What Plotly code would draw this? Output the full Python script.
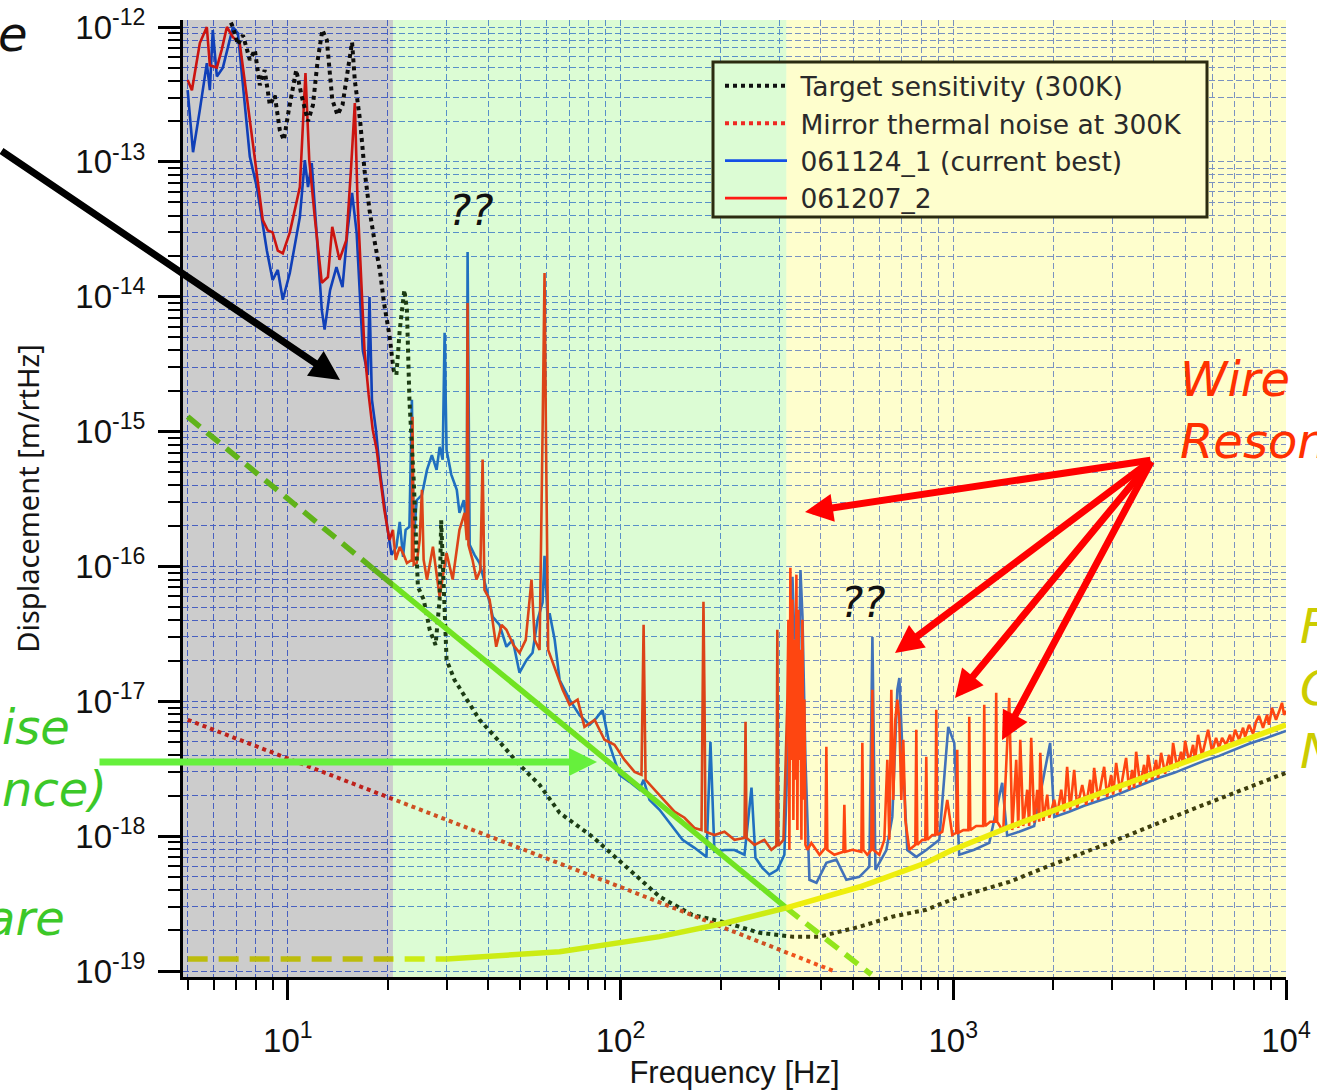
import math
import plotly.graph_objects as go

# ------------------------------------------------------------------ data
TARGET_F = [6.0, 6.84, 7.08, 7.33, 7.69, 7.96, 8.24, 8.52, 8.83, 9.14, 9.46, 9.73, 10.07, 10.35,
            10.6, 11.0, 11.5, 11.9, 12.3, 12.7, 13.1, 13.6, 14.1, 14.6, 15.1, 15.6, 15.9, 16.5,
            17.0, 17.6, 18.2, 18.9, 19.5, 20.2, 20.8, 21.2, 21.7, 22.2, 22.4, 22.8, 23.2, 23.9,
            24.6, 25.6, 26.7, 27.8, 28.6, 28.9, 29.4, 30.0, 31.7, 34.5, 37.7, 43.3, 49.7, 57.1,
            65.6, 82.4, 104.2, 131, 164.5, 208, 262, 328.6, 396, 522, 655.8, 829.6, 1042, 1474,
            1943, 3109, 5456, 10000]
TARGET_D = [2.0e-12, 1.0e-12, 7.4e-13, 8.7e-13, 5.7e-13, 6.75e-13, 3.7e-13, 4.8e-13, 2.64e-13,
            3.1e-13, 1.72e-13, 1.45e-13, 2.43e-13, 3.4e-13, 4.8e-13, 3.1e-13, 2.0e-13, 2.64e-13,
            5.7e-13, 9.5e-13, 8.0e-13, 2.9e-13, 2.23e-13, 2.64e-13, 4.8e-13, 7.7e-13, 4.0e-13,
            2.0e-13, 8.7e-14, 4.4e-14, 2.64e-14, 1.58e-14, 8.7e-15, 5.2e-15, 2.86e-15, 2.63e-15,
            5.7e-15, 1.03e-14, 1.12e-14, 8.0e-15, 1.72e-15, 4.4e-16, 7.06e-17, 5.7e-17, 3.39e-17,
            2.62e-17, 5.7e-17, 2.2e-16, 6.7e-17, 2.03e-17, 1.44e-17, 1.03e-17, 7.3e-18, 5.0e-18,
            3.38e-18, 2.40e-18, 1.49e-18, 9.9e-19, 5.93e-19, 3.56e-19, 2.61e-19, 2.28e-19,
            1.92e-19, 1.80e-19, 1.80e-19, 2.13e-19, 2.53e-19, 2.85e-19, 3.56e-19, 4.59e-19,
            6.03e-19, 9.4e-19, 1.65e-18, 2.95e-18]

MIRROR_F = [5, 100, 437]
MIRROR_D = [7.3e-18, 4.2e-19, 1.0e-19]

# green model line: dashed / solid / dashed pieces
SEIS_F = [5, 18, 315, 567]
SEIS_D = [1.29e-15, 9.7e-17, 2.94e-19, 9.4e-20]

# yellow model line: dashed low-frequency piece then solid
SHOT_F = [5, 30, 65.6, 131, 208, 315, 522, 830, 981, 1474, 3867, 10000]
SHOT_D = [1.23e-19, 1.23e-19, 1.39e-19, 1.8e-19, 2.28e-19, 2.94e-19, 4.2e-19, 6.35e-19,
          7.8e-19, 1.17e-18, 2.8e-18, 6.7e-18]

BLUE_F = [5.0, 5.19, 5.44, 5.71, 5.83, 5.95, 6.12, 6.38, 6.69, 6.84, 7.08, 7.33, 7.69, 8.07,
          8.65, 9.0, 9.33, 9.66, 10.14, 10.87, 11.25, 11.5, 11.8, 12.2, 12.65, 12.9, 13.4, 14.0,
          14.6, 15.1, 15.6, 16.1, 16.5, 16.8, 17.4, 17.6, 17.9, 18.4, 18.9, 19.4, 19.96, 20.5,
          21.2, 21.7, 22.2, 22.6, 23.2, 23.6, 23.9, 24.4, 25.3, 26.2, 27.1, 28.0, 28.6, 29.2,
          29.6, 30.0, 31.0, 32.2, 32.8, 33.8, 34.5, 34.7, 35.2, 36.4, 37.7, 39.6, 41.3, 43.3,
          45.4, 47.4, 49.7, 52.2, 54.4, 56.3, 58.3, 59.1, 60.4, 61.2, 63.4, 65.6, 70.3, 75.3,
          80.8, 84.7, 88.3, 92.7, 99.3, 106.4, 114.0, 117.3, 122.2, 131.0, 140.4, 153.6, 166.8,
          181.2, 186.3, 191.5, 205.3, 220.0, 235.8, 247.5, 254.4, 266.8, 280.0, 296.0, 310.7,
          322.0, 328.6, 333.2, 338.0, 342.6, 347.3, 352.2, 359.5, 369.6, 388.0, 415.5, 445.3,
          477.2, 522.0, 559.5, 571.4, 583.6, 629.4, 655.8, 679.2, 688.6, 703.0, 727.5, 774.3,
          829.6, 907.8, 965.9, 1007, 1042, 1156, 1283, 1403, 1452, 1578, 1750, 1955, 2011, 2230,
          2473, 2743, 3043, 3378, 3748, 4157, 4612, 5117, 5675, 6295, 6982, 7745, 8592, 10000]
BLUE_D = [3.4e-13, 1.18e-13, 2.43e-13, 5.4e-13, 3.4e-13, 9.5e-13, 4.3e-13, 5.0e-13, 8.0e-13,
          1.0e-12, 9.0e-13, 3.85e-13, 1.09e-13, 6.5e-14, 2.2e-14, 1.33e-14, 1.58e-14, 9.5e-15,
          1.5e-14, 3.9e-14, 1.03e-13, 6.5e-14, 9.8e-14, 3.0e-14, 8.0e-15, 5.7e-15, 1.12e-14,
          1.66e-14, 1.18e-14, 3.0e-14, 5.9e-14, 3.0e-14, 9.5e-15, 4.0e-15, 2.63e-15, 9.97e-15,
          1.72e-15, 1.03e-15, 5.2e-16, 3.1e-16, 1.87e-16, 1.22e-16, 1.40e-16, 2.14e-16, 1.18e-16,
          1.87e-16, 1.97e-16, 1.72e-15, 1.57e-16, 3.1e-16, 3.4e-16, 5.2e-16, 6.7e-16, 5.2e-16,
          7.7e-16, 6.2e-16, 5.4e-15, 7.3e-16, 4.8e-16, 3.7e-16, 2.5e-16, 3.1e-16, 1.87e-16,
          2.15e-14, 1.45e-16, 1.22e-16, 1.06e-16, 6.7e-17, 4.23e-17, 3.69e-17, 2.54e-17, 2.86e-17,
          1.63e-17, 2.03e-17, 2.29e-17, 4.0e-17, 5.4e-17, 1.2e-16, 4.0e-17, 4.5e-17, 2.86e-17,
          1.44e-17, 1.03e-17, 7.9e-18, 6.7e-18, 7.55e-18, 8.6e-18, 4.76e-18, 2.85e-18, 2.53e-18,
          2.21e-18, 2.62e-18, 1.86e-18, 1.57e-18, 1.26e-18, 9.4e-19, 8.2e-19, 7.03e-19, 5.0e-18,
          7.66e-19, 7.9e-19, 7.9e-19, 7.28e-19, 2.29e-18, 6.92e-19, 5.83e-19, 5.18e-19, 5.63e-19,
          7.28e-19, 1.03e-17, 8.4e-17, 2.86e-17, 4.23e-17, 1.03e-17, 9.4e-17, 4.23e-17, 3.7e-18,
          4.75e-19, 4.52e-19, 6.35e-19, 6.7e-19, 4.75e-19, 5.0e-19, 5.93e-19, 3.0e-17, 5.63e-19,
          7.9e-19, 1.39e-18, 1.22e-17, 1.49e-17, 4.37e-18, 7.9e-19, 7.03e-19, 7.9e-19, 9.4e-19,
          6.47e-18, 4.9e-18, 7.28e-19, 7.93e-19, 8.93e-19, 2.49e-18, 1.01e-18, 1.08e-18,
          1.19e-18, 4.92e-18, 1.39e-18, 1.52e-18, 1.68e-18, 1.83e-18, 1.99e-18, 2.21e-18,
          2.45e-18, 2.71e-18, 2.95e-18, 3.27e-18, 3.62e-18, 3.94e-18, 4.37e-18, 4.84e-18,
          5.27e-18, 6.04e-18]

RED_F = [5.0, 5.15, 5.44, 5.71, 5.83, 6.12, 6.33, 6.56, 6.84, 7.17, 7.53, 8.07, 8.41, 8.71, 9.0,
         9.33, 9.66, 10.14, 10.87, 11.3, 11.6, 12.05, 12.65, 13.2, 13.6, 14.3, 15.0, 15.5, 15.9,
         16.2, 16.7, 17.0, 17.5, 18.0, 18.5, 19.0, 19.5, 20.2, 20.7, 21.1, 21.7, 22.3, 22.8,
         23.6, 23.7, 23.9, 24.4, 24.9, 25.3, 25.6, 26.2, 27.3, 28.0, 28.6, 30.0, 31.3, 32.8,
         34.0, 34.5, 34.7, 34.9, 35.9, 36.9, 37.9, 38.5, 39.0, 40.4, 42.3, 43.9, 45.4, 47.7,
         49.7, 51.9, 54.0, 55.2, 57.1, 58.3, 59.1, 59.7, 60.6, 64.2, 67.0, 70.3, 74.3, 77.9,
         83.6, 89.5, 95.9, 102.8, 110.2, 115.6, 117.3, 118.9, 126.5, 135.6, 145.3, 155.7, 166.8,
         175.1, 176.3, 177.5, 178.8, 180.0, 191.5, 205.3, 220.0, 235.8, 237.5, 239.2, 252.7,
         270.6, 284.0, 294.0, 296.0, 298.0, 308.8, 317.3, 319.5, 321.7, 323.9, 326.2, 328.5,
         330.7, 333.0, 335.4, 337.7, 340.0, 342.4, 344.8, 347.1, 349.6, 352.0, 354.4, 356.9,
         359.4, 364.4, 374.6, 396.3, 412.7, 415.5, 418.3, 439.2, 467.4, 470.6, 473.9, 497.6,
         529.3, 533.0, 536.7, 551.7, 567.3, 571.2, 575.2, 599.6, 620.6, 633.6, 642.4, 651.3,
         660.4, 669.6, 678.9, 688.4, 698.0, 707.7, 717.7, 737.8, 769.0, 774.3, 779.7, 807.1,
         824.0, 829.6, 835.5, 864.9, 883.0, 889.1, 895.3, 926.8, 959.4, 993.1, 1021, 1028,
         1035, 1072, 1110, 1117, 1125, 1172, 1230, 1239, 1247, 1291, 1337, 1346, 1355,
         1413, 1473, 1504, 1546, 1568, 1590, 1623, 1668, 1691, 1715, 1751, 1788, 1813, 1826,
         1864, 1916, 1943, 2011, 2053, 2111, 2154, 2199, 2246, 2309, 2357, 2441, 2509, 2579,
         2615, 2651, 2725, 2841, 2901, 2982, 3024, 3087, 3173, 3307, 3377, 3448, 3496, 3545,
         3644, 3746, 3798, 3851, 3959, 4069, 4126, 4213, 4331, 4452, 4515, 4578, 4706, 4838,
         4905, 4974, 5113, 5256, 5330, 5441, 5594, 5713, 5832, 5996, 6164, 6293, 6425, 6605,
         6790, 6884, 7029, 7226, 7429, 7533, 7744, 7961, 8128, 8298, 8531, 8770, 8889, 9078,
         9332, 9528, 9727, 9862, 10000]
RED_D = [4.05e-13, 3.4e-13, 7.6e-13, 1.0e-12, 5.2e-13, 5.0e-13, 6.8e-13, 1.0e-12, 8.4e-13,
         7.6e-13, 3.03e-13, 8.3e-14, 3.7e-14, 3.1e-14, 3.0e-14, 2.2e-14, 2.1e-14, 3.0e-14,
         6.5e-14, 4.56e-13, 1.03e-13, 3.9e-14, 1.27e-14, 1.40e-14, 3.3e-14, 1.88e-14, 2.64e-14,
         9.2e-14, 2.73e-13, 5.2e-14, 1.07e-14, 4.0e-15, 1.87e-15, 1.03e-15, 7.3e-16, 4.4e-16,
         2.63e-16, 1.57e-16, 1.87e-16, 1.12e-16, 1.40e-16, 1.22e-16, 1.06e-16, 1.12e-16,
         1.29e-15, 1.03e-16, 1.06e-16, 1.57e-16, 3.7e-16, 1.12e-16, 7.96e-17, 1.40e-16, 8.7e-17,
         5.95e-17, 1.26e-16, 8.0e-17, 1.87e-16, 2.5e-16, 1.57e-16, 9.0e-15, 1.45e-16, 1.12e-16,
         8.0e-17, 9.4e-17, 6.2e-16, 6.7e-17, 5.7e-17, 2.54e-17, 3.69e-17, 3.39e-17, 2.6e-17,
         2.29e-17, 2.86e-17, 8.0e-17, 2.86e-17, 2.4e-17, 9.8e-16, 1.5e-14, 8.7e-16, 2.41e-17,
         1.63e-17, 1.22e-17, 9.42e-18, 1.03e-17, 6.47e-18, 7.29e-18, 5.19e-18, 4.76e-18,
         3.68e-18, 3.0e-18, 2.85e-18, 3.69e-17, 2.62e-18, 2.21e-18, 1.86e-18, 1.52e-18,
         1.37e-18, 1.15e-18, 1.11e-18, 1.16e-17, 5.47e-17, 1.03e-17, 1.08e-18, 1.02e-18,
         1.08e-18, 9.4e-19, 9.7e-19, 7.05e-18, 9.7e-19, 8.63e-19, 9.4e-19, 7.93e-19, 8.49e-19,
         3.39e-17, 8.49e-19, 9.4e-19, 1.03e-17, 4.02e-17, 7.93e-19, 9.8e-17, 3.68e-18, 5.7e-17,
         1.32e-18, 2.86e-17, 2.62e-18, 8.7e-17, 1.11e-18, 4.77e-17, 3.68e-18, 2.41e-17, 9.4e-19,
         4.02e-17, 1.86e-18, 1.03e-17, 8.63e-19, 7.93e-19, 8.9e-19, 7.28e-19, 8.2e-19, 4.6e-18,
         7.93e-19, 7.28e-19, 7.66e-19, 1.71e-18, 7.66e-19, 7.93e-19, 7.66e-19, 4.92e-18,
         7.93e-19, 7.28e-19, 7.93e-19, 1.22e-17, 7.93e-19, 7.28e-19, 9.4e-19, 3.68e-18, 9.4e-19,
         1.22e-17, 1.86e-18, 7.29e-18, 1.03e-17, 7.29e-18, 1.86e-18, 5.19e-18, 1.32e-18,
         7.93e-19, 8.63e-19, 6.15e-18, 8.63e-19, 9.4e-19, 9.4e-19, 3.88e-18, 9.4e-19, 1.02e-18,
         1.02e-18, 8.65e-18, 1.02e-18, 1.08e-18, 1.86e-18, 1.02e-18, 1.06e-18, 4.37e-18,
         1.06e-18, 1.11e-18, 1.11e-18, 7.67e-18, 1.11e-18, 1.19e-18, 1.19e-18, 9.42e-18,
         1.19e-18, 1.28e-18, 1.28e-18, 1.16e-17, 1.28e-18,
         1.08e-18, 1.06e-17, 1.11e-18, 3.68e-18, 1.15e-18, 5.19e-18, 1.19e-18, 2.21e-18,
         1.19e-18, 5.36e-18, 1.26e-18, 2.21e-18, 1.28e-18, 4.15e-18, 1.30e-18, 2.03e-18,
         1.37e-18, 1.86e-18, 1.44e-18, 2.21e-18, 1.52e-18, 3.27e-18, 1.57e-18, 3.10e-18,
         1.63e-18, 2.40e-18, 1.71e-18, 2.62e-18, 1.80e-18, 3.21e-18, 1.86e-18, 3.27e-18,
         1.96e-18, 2.85e-18, 2.03e-18, 3.50e-18, 2.13e-18, 3.81e-18, 2.21e-18, 3.10e-18,
         2.28e-18, 4.23e-18, 2.40e-18, 3.38e-18, 2.53e-18, 4.01e-18, 2.62e-18, 3.68e-18,
         2.71e-18, 4.15e-18, 2.90e-18, 4.01e-18, 3.10e-18, 4.92e-18, 3.21e-18, 4.23e-18,
         3.38e-18, 5.10e-18, 3.56e-18, 4.76e-18, 3.68e-18, 5.65e-18, 3.94e-18, 5.01e-18,
         6.15e-18, 4.23e-18, 5.36e-18, 4.52e-18, 5.36e-18, 4.76e-18, 5.65e-18, 4.84e-18,
         6.15e-18, 5.19e-18, 6.37e-18, 5.46e-18, 6.70e-18, 5.74e-18, 7.05e-18, 7.80e-18,
         6.37e-18, 7.94e-18, 6.70e-18, 8.95e-18, 7.29e-18, 8.36e-18, 9.75e-18, 7.94e-18, 8.5e-18]

X_TICKS = [10, 100, 1000, 10000]
X_TICKTEXT = ["10<sup>1</sup>", "10<sup>2</sup>", "10<sup>3</sup>", "10<sup>4</sup>"]
Y_EXPONENTS = [-19, -18, -17, -16, -15, -14, -13, -12]
MANTISSAS = [2, 3, 4, 5, 6, 7, 8, 9]
REGION_EDGES = [20.7, 315]   # Hz: grey | green | yellow shading

# ------------------------------------------------------------------ layout constants
W, H = 1317, 1090
PL, PR, PT, PB = 183, 1286, 20, 977
X_RANGE = [0.685, 4.0]
Y_RANGE = [-19.044, -11.948]

def px(x):
    return (x - PL) / (PR - PL)

def py(y):
    return (PB - y) / (PB - PT)

def fx(f):
    return (math.log10(f) - X_RANGE[0]) / (X_RANGE[1] - X_RANGE[0])

GRID = "#5a78f0"
TICKFONT = dict(family="Liberation Sans, Arial, sans-serif", size=33, color="#111111")
SLIDE = "DejaVu Sans, Open Sans, sans-serif"
NB = "\u00a0"

fig = go.Figure()

fig.add_trace(go.Scatter(x=BLUE_F, y=BLUE_D, mode="lines", name=NB + "061124_1 (current best)",
                         line=dict(color="#1450e6", width=2.6), legendrank=3))
fig.add_trace(go.Scatter(x=RED_F, y=RED_D, mode="lines", name=NB + "061207_2",
                         line=dict(color="#ff1a14", width=2.6), legendrank=4))
fig.add_trace(go.Scatter(x=TARGET_F, y=TARGET_D, mode="lines",
                         name=NB + "Target sensitivity (300K)",
                         line=dict(color="#101010", width=4, dash="dot"), legendrank=1))
fig.add_trace(go.Scatter(x=MIRROR_F, y=MIRROR_D, mode="lines",
                         name=NB + "Mirror thermal noise at 300K",
                         line=dict(color="#ee2a22", width=4, dash="dot"), legendrank=2))
# green model line (dashed outside 18-315 Hz)
fig.add_trace(go.Scatter(x=SEIS_F[0:2], y=SEIS_D[0:2], mode="lines", showlegend=False,
                         line=dict(color="#78e020", width=5.5, dash="16px,9px")))
fig.add_trace(go.Scatter(x=SEIS_F[1:3], y=SEIS_D[1:3], mode="lines", showlegend=False,
                         line=dict(color="#78e020", width=5.5)))
fig.add_trace(go.Scatter(x=SEIS_F[2:4], y=SEIS_D[2:4], mode="lines", showlegend=False,
                         line=dict(color="#78e020", width=5.5, dash="16px,9px")))
# yellow model line
fig.add_trace(go.Scatter(x=SHOT_F[0:2], y=SHOT_D[0:2], mode="lines", showlegend=False,
                         line=dict(color="#ecec10", width=5.5, dash="20px,11px")))
fig.add_trace(go.Scatter(x=SHOT_F[1:], y=SHOT_D[1:], mode="lines", showlegend=False,
                         line=dict(color="#ecec10", width=5.5)))

x_minor = [m * 10 ** k for k in range(0, 4) for m in MANTISSAS if m * 10 ** k >= 5]
y_minor = [m * 10.0 ** e for e in range(-20, -12) for m in MANTISSAS]

axis_common = dict(type="log", showline=True, linecolor="black", linewidth=3, mirror=False,
                   ticks="outside", tickwidth=2.5, tickcolor="black", tickfont=TICKFONT,
                   showgrid=True, gridcolor=GRID, gridwidth=1, griddash="6px,3px",
                   zeroline=False, automargin=False)

fig.update_xaxes(range=X_RANGE, tickmode="array", tickvals=X_TICKS, ticktext=X_TICKTEXT,
                 ticklen=20, ticklabelstandoff=12,
                 minor=dict(tickmode="array", tickvals=x_minor, ticks="outside", ticklen=10,
                            tickwidth=2, tickcolor="black", showgrid=True, gridcolor=GRID,
                            gridwidth=1, griddash="6px,3px"),
                 title=dict(text="Frequency [Hz]", standoff=4,
                            font=dict(family="Liberation Sans, Arial, sans-serif", size=31,
                                      color="#151515")),
                 **axis_common)
fig.update_yaxes(range=Y_RANGE, tickmode="array",
                 tickvals=[10.0 ** e for e in Y_EXPONENTS],
                 ticktext=["10<sup>%d</sup>" % e for e in Y_EXPONENTS],
                 ticklen=22, ticklabelstandoff=6,
                 minor=dict(tickmode="array", tickvals=y_minor, ticks="outside", ticklen=12,
                            tickwidth=2, tickcolor="black", showgrid=True, gridcolor=GRID,
                            gridwidth=1, griddash="6px,3px"),
                 title=dict(text="Displacement [m/rtHz]", standoff=28,
                            font=dict(family="Noto Sans, Open Sans, sans-serif", size=29,
                                      color="#151515")),
                 **axis_common)

# ------------------------------------------------------------------ shading overlays + legend box
LEG = dict(x0=713, x1=1207, y0=62, y1=217)
shapes = [
    dict(type="rect", xref="paper", yref="paper", x0=px(LEG["x0"]), x1=px(LEG["x1"]),
         y0=py(LEG["y1"]), y1=py(LEG["y0"]), fillcolor="white", line=dict(width=0), layer="above"),
    dict(type="rect", xref="paper", yref="paper", x0=0, x1=fx(REGION_EDGES[0]), y0=0, y1=1,
         fillcolor="rgba(0,0,0,0.2)", line=dict(width=0), layer="above"),
    dict(type="rect", xref="paper", yref="paper", x0=fx(REGION_EDGES[0]), x1=fx(REGION_EDGES[1]),
         y0=0, y1=1, fillcolor="rgba(80,240,40,0.2)", line=dict(width=0), layer="above"),
    dict(type="rect", xref="paper", yref="paper", x0=fx(REGION_EDGES[1]), x1=1, y0=0, y1=1,
         fillcolor="rgba(250,250,5,0.2)", line=dict(width=0), layer="above"),
    dict(type="rect", xref="paper", yref="paper", x0=px(LEG["x0"]), x1=px(LEG["x1"]),
         y0=py(LEG["y1"]), y1=py(LEG["y0"]), fillcolor="rgba(0,0,0,0)",
         line=dict(color="#2b2b10", width=3), layer="above"),
]

# ------------------------------------------------------------------ annotations
ann = []

def arrow(hx, hy, tx, ty, color, width=7, size=0.8):
    ann.append(dict(xref="paper", yref="paper", x=px(hx), y=py(hy), ax=tx - hx, ay=ty - hy,
                    axref="pixel", ayref="pixel", text="", showarrow=True, arrowhead=2,
                    arrowsize=size, arrowwidth=width, arrowcolor=color, standoff=0,
                    startstandoff=0))

def label(text, x, y, color, size, xanchor="left", align="left", family=SLIDE):
    ann.append(dict(xref="paper", yref="paper", x=px(x), y=py(y), text="<i>%s</i>" % text,
                    showarrow=False, xanchor=xanchor, yanchor="middle", align=align,
                    font=dict(family=family, size=size, color=color)))

arrow(340, 380, -20, 150, "#000000", width=7, size=0.85)
arrow(597, 762, 98, 762, "#66f03c", width=7, size=0.8)
for hx, hy in [(805, 512), (895, 653), (955, 698), (1002, 740)]:
    arrow(hx, hy, 1152, 460, "#ff0000", width=7, size=0.8)

label("??", 447, 210, "#111111", 42)
label("??", 839, 602, "#111111", 42)
label("e", -4, 34, "#111111", 48)
label("Wire<br>Resonance", 1178, 410, "#ff3000", 48)
label("ise<br>nce)", 0, 758, "#3cc828", 48)
label("are", 67, 918, "#3cc828", 48, xanchor="right")
label("F<br>C<br>N", 1298, 688, "#cccc00", 48)

fig.update_layout(
    width=W, height=H,
    margin=dict(l=PL, r=W - PR, t=PT, b=H - PB),
    paper_bgcolor="white", plot_bgcolor="white",
    shapes=shapes, annotations=ann,
    showlegend=True,
    legend=dict(x=px(720), y=py(LEG["y0"]), xanchor="left", yanchor="top",
                bgcolor="rgba(0,0,0,0)", borderwidth=0, itemwidth=62, tracegroupgap=0,
                font=dict(family="DejaVu Sans, Noto Sans, sans-serif", size=26.5,
                          color="#2a2a2a")),
)

fig.write_html("out.html")
